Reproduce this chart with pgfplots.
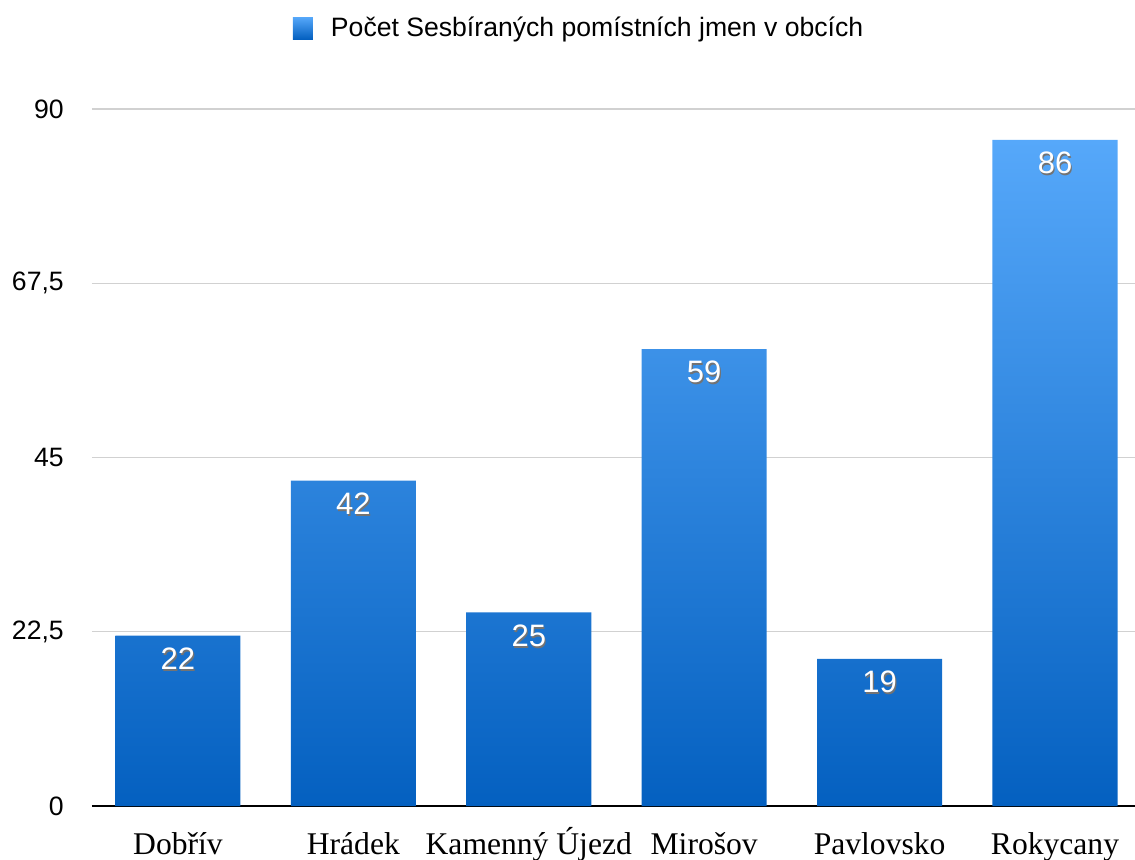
\documentclass[border=0pt]{standalone}
\usepackage{pgfplots}
\pgfplotsset{compat=1.18}
\usepackage{fontspec}
\setmainfont{Liberation Sans}
\newfontfamily\serifx{Liberation Serif}
\definecolor{bartop}{RGB}{86,168,250}
\definecolor{barbot}{RGB}{4,96,192}
% white number with a soft dark shadow
\newcommand\shtext[1]{\makebox[0pt][l]{\hspace{0.6pt}\raisebox{-1pt}{\textcolor{black!55}{#1}}}\textcolor{white}{#1}}

\begin{document}
\begin{tikzpicture}
\begin{axis}[
    scale only axis,
    width=521.5pt, height=348.5pt,
    xmin=-0.49, xmax=5.456,
    ymin=0, ymax=90,
    bar width=0.713,
    axis x line*=bottom,
    axis y line*=left,
    y axis line style={draw=none},
    x axis line style={black, line width=1.2pt},
    ytick={0,22.5,45,67.5,90},
    yticklabels={0,{22,5},45,{67,5},90},
    xtick={0,...,5},
    xticklabels={Dobřív,Hrádek,Kamenný Újezd,Mirošov,Pavlovsko,Rokycany},
    major tick length=0pt,
    ymajorgrids,
    grid style={color=black!18, line width=0.7pt},
    /pgf/number format/assume math mode=true,
    yticklabel style={font=\fontsize{13.3}{16}\selectfont, xshift=-10.6pt},
    xticklabel style={font=\serifx\fontsize{15.8}{19}\selectfont, anchor=base, yshift=-24pt},
    nodes near coords={\shtext{\pgfmathprintnumber[assume math mode=true]{\pgfplotspointmeta}}},
    nodes near coords style={anchor=center, yshift=-12pt, font=\fontsize{15.5}{18}\selectfont},
    legend style={at={(rel axis cs:0.1927,1.1162)}, anchor=west, draw=none, fill=none,
        font=\fontsize{13.3}{16}\selectfont, inner sep=0pt, outer sep=0pt,
        nodes={inner sep=0pt}},
    legend cell align=left,
    legend image code/.code={\fill[top color=bartop, bottom color=barbot] (0pt,-5.5pt) rectangle (10pt,5.5pt);
        \path (19pt,0pt);},
]
\addplot[ybar, draw=none, top color=bartop, bottom color=barbot]
    coordinates {(0,22) (1,42) (2,25) (3,59) (4,19) (5,86)};
\addlegendentry{Počet Sesbíraných pomístních jmen v obcích}
\end{axis}
\pgfresetboundingbox
\path[use as bounding box] ([shift={(-46pt,-26.5pt)}]current axis.south west) rectangle ([shift={(0pt,54.5pt)}]current axis.north east);
\end{tikzpicture}
\end{document}
